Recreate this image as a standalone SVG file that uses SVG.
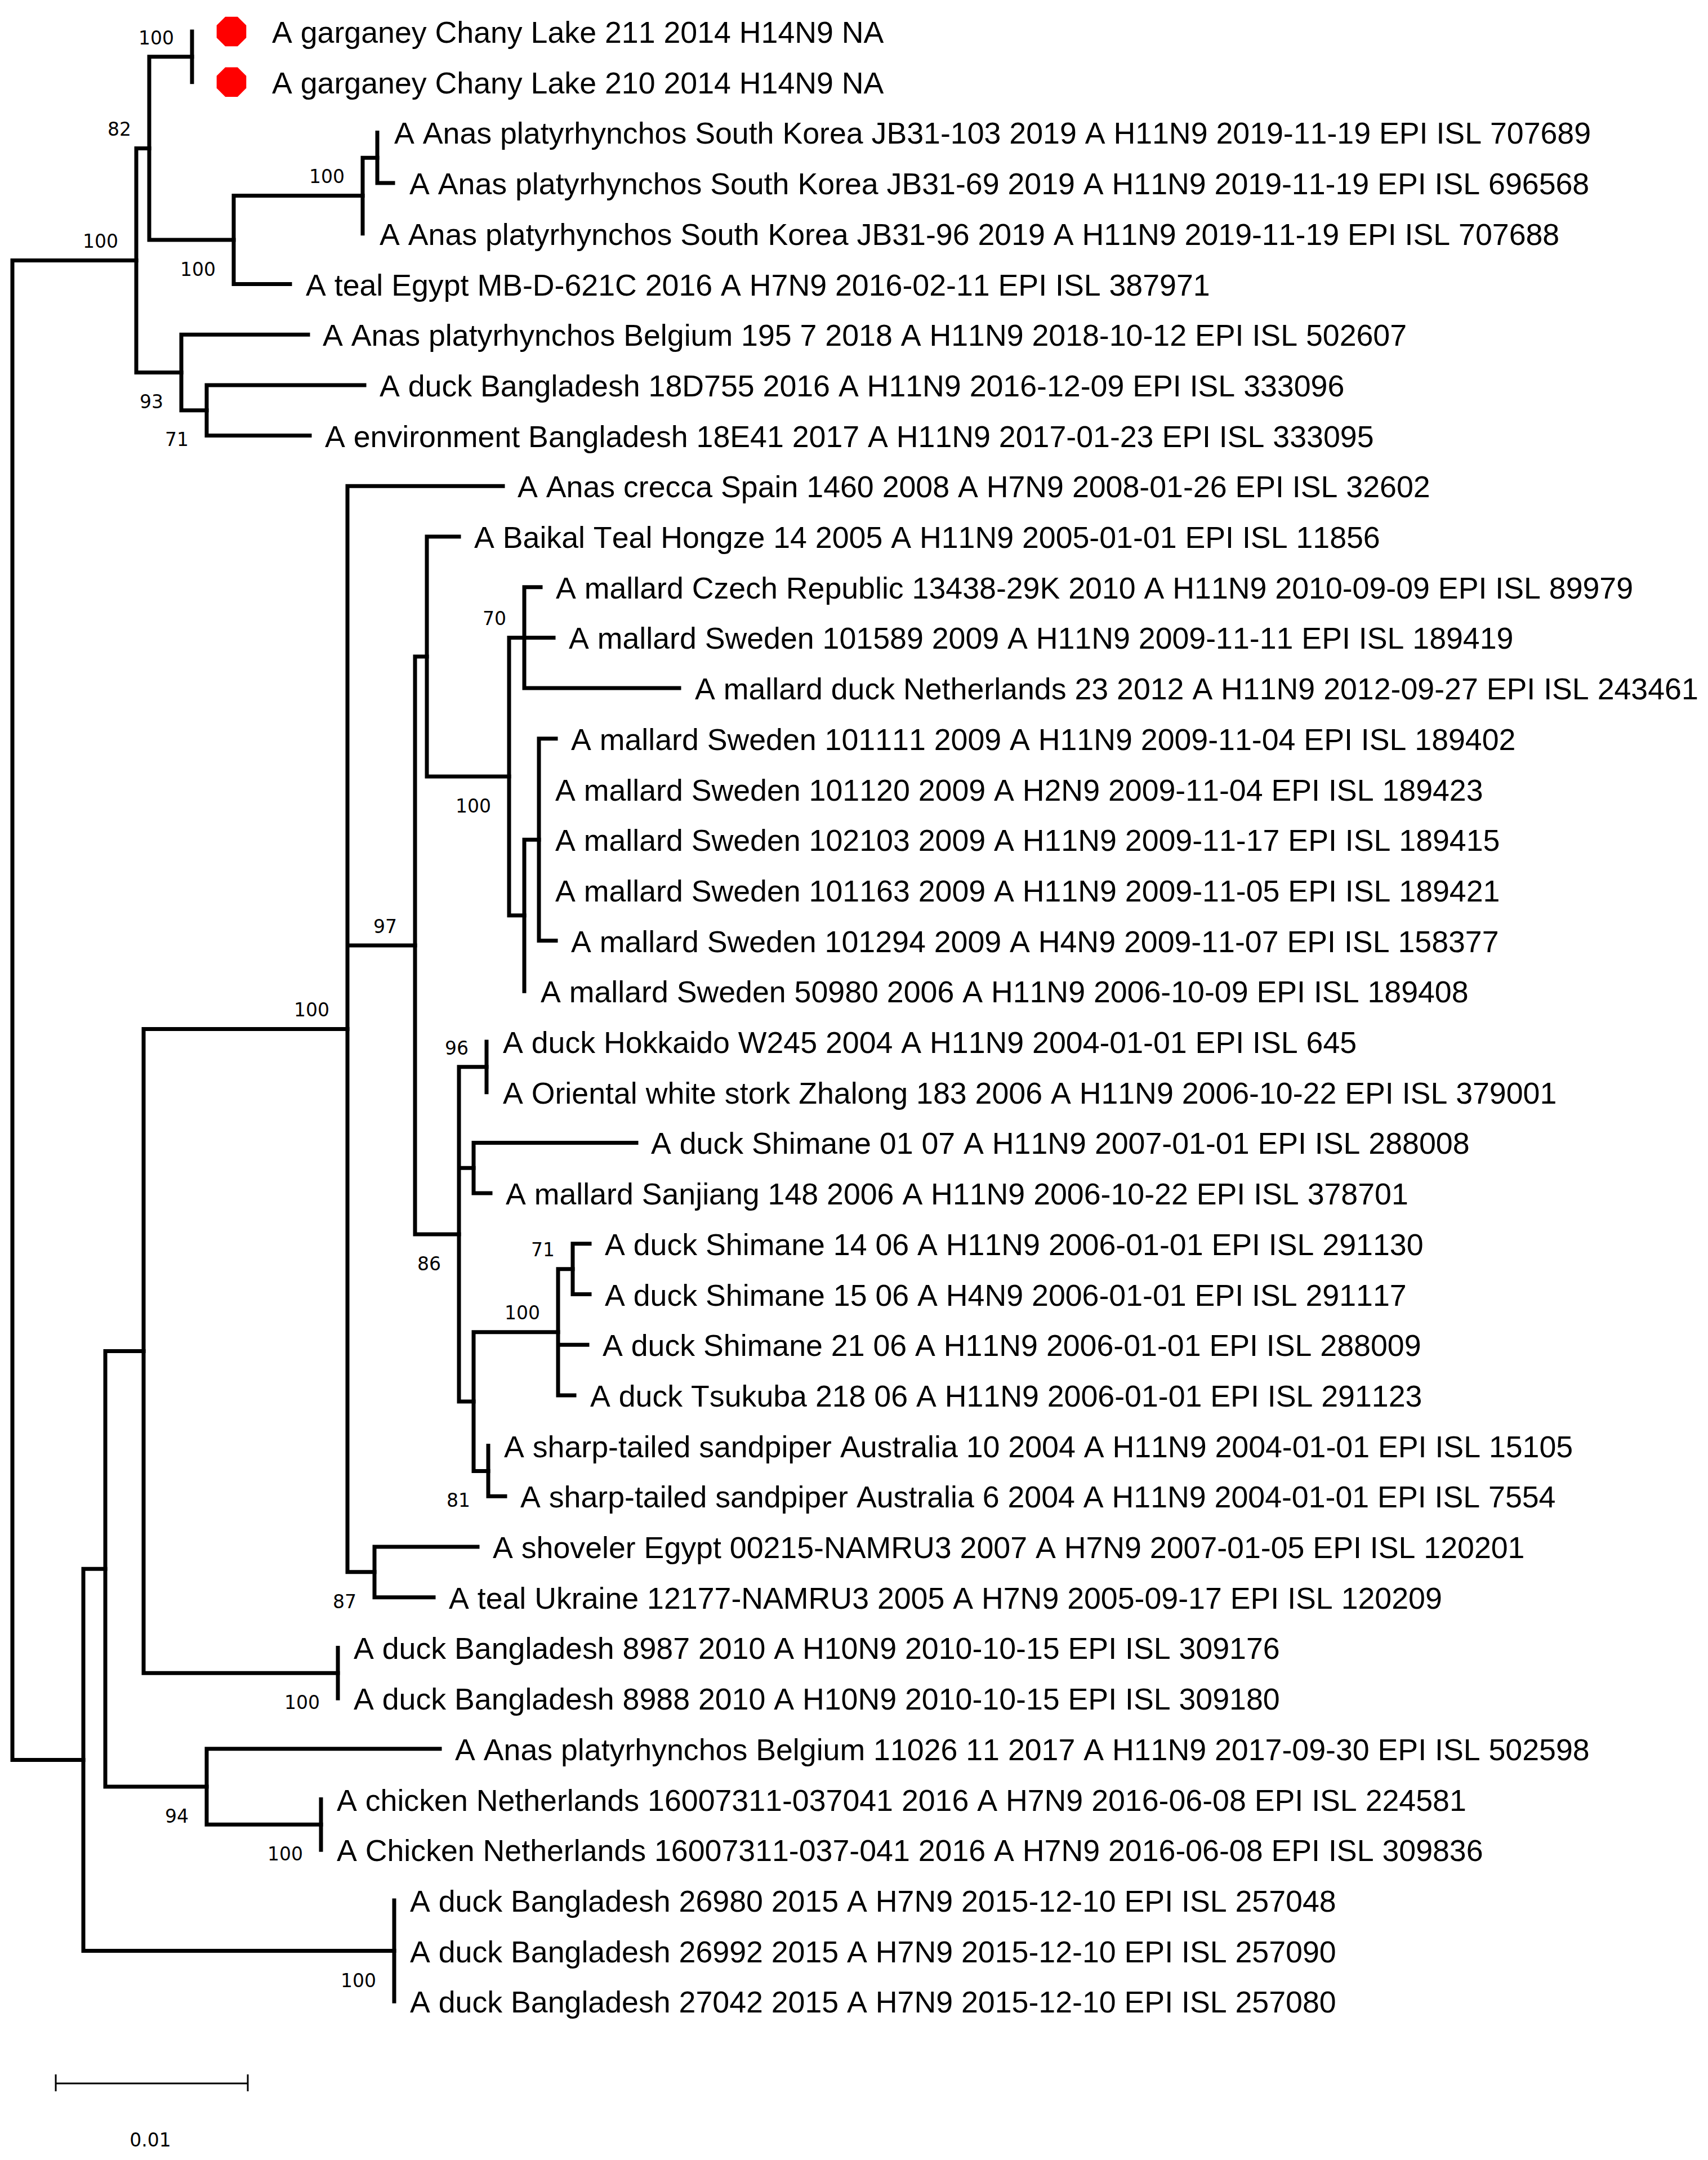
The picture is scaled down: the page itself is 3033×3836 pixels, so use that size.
<svg xmlns="http://www.w3.org/2000/svg" width="3033" height="3836" viewBox="0 0 3033 3836">
<style>
.br{fill:none;stroke:#000;stroke-width:7;stroke-linecap:square;stroke-linejoin:miter}
.lf{font-family:"Liberation Sans",Arial,sans-serif;font-size:53.7px;fill:#000;font-kerning:none;font-feature-settings:"kern" 0}
.bs{font-family:"DejaVu Sans",Verdana,sans-serif;font-size:33px;fill:#000;text-anchor:end;font-kerning:none}
.sb{fill:none;stroke:#000;stroke-width:3}
.dot{fill:#f00}
</style>
<rect width="3033" height="3836" fill="#fff"/>
<g id="connectors" class="br">
<path d="M341 56V145.7"/>
<path d="M670 235.4V325.1H698"/>
<path d="M670 280.25H644V414.8"/>
<path d="M644 347.5H415V504.5H515"/>
<path d="M341 100.85H265V426H415"/>
<path d="M647 683.9H367V773.6H550"/>
<path d="M547 594.2H322V728.75H367"/>
<path d="M265 263.4H242V661.5H322"/>
<path d="M242 462.45H22V3125.4H148"/>
<path d="M960 1042.7H931V1222.1H1206M931 1132.4H983"/>
<path d="M987 1311.8H957V1670.6H987"/>
<path d="M957 1491.2H931V1760.3"/>
<path d="M931 1132.4H904V1625.75H931"/>
<path d="M815 953H758V1379.1H904"/>
<path d="M864 1850V1939.7"/>
<path d="M1130 2029.4H841V2119.1H871"/>
<path d="M1047 2208.8H1017V2298.5H1047"/>
<path d="M1017 2253.65H991V2477.9H1020M991 2388.2H1043"/>
<path d="M867 2567.6V2657.3H897"/>
<path d="M991 2365.8H841V2612.45H867"/>
<path d="M864 1894.85H815V2489.1H841M815 2074.25H841"/>
<path d="M758 1166H737V2192H815"/>
<path d="M848 2747H665V2836.7H770"/>
<path d="M893 863.3H617V2791.85H665M617 1679H737"/>
<path d="M600 2926.4V3016.1"/>
<path d="M617 1827.6H255V2971.25H600"/>
<path d="M570 3195.5V3285.2"/>
<path d="M781 3105.8H367V3240.35H570"/>
<path d="M255 2399.4H187V3173.1H367"/>
<path d="M700 3374.9V3554.3"/>
<path d="M187 2786.25H148V3464.6H700"/>
</g>
<g id="markers">
<polygon class="dot" points="437.3,45.1 437.3,66.9 421.9,82.3 400.1,82.3 384.7,66.9 384.7,45.1 400.1,29.7 421.9,29.7"/>
<polygon class="dot" points="437.3,134.8 437.3,156.6 421.9,172 400.1,172 384.7,156.6 384.7,134.8 400.1,119.4 421.9,119.4"/>
</g>
<g id="leaves">
<g id="leaf0"><text class="lf" x="483" y="76">A garganey Chany Lake 211 2014 H14N9 NA</text></g>
<g id="leaf1"><text class="lf" x="483" y="165.7">A garganey Chany Lake 210 2014 H14N9 NA</text></g>
<g id="leaf2"><text class="lf" x="700" y="255.4">A Anas platyrhynchos South Korea JB31-103 2019 A H11N9 2019-11-19 EPI ISL 707689</text></g>
<g id="leaf3"><text class="lf" x="727" y="345.1">A Anas platyrhynchos South Korea JB31-69 2019 A H11N9 2019-11-19 EPI ISL 696568</text></g>
<g id="leaf4"><text class="lf" x="674" y="434.8">A Anas platyrhynchos South Korea JB31-96 2019 A H11N9 2019-11-19 EPI ISL 707688</text></g>
<g id="leaf5"><text class="lf" x="543" y="524.5">A teal Egypt MB-D-621C 2016 A H7N9 2016-02-11 EPI ISL 387971</text></g>
<g id="leaf6"><text class="lf" x="573" y="614.2">A Anas platyrhynchos Belgium 195 7 2018 A H11N9 2018-10-12 EPI ISL 502607</text></g>
<g id="leaf7"><text class="lf" x="674" y="703.9">A duck Bangladesh 18D755 2016 A H11N9 2016-12-09 EPI ISL 333096</text></g>
<g id="leaf8"><text class="lf" x="577" y="793.6">A environment Bangladesh 18E41 2017 A H11N9 2017-01-23 EPI ISL 333095</text></g>
<g id="leaf9"><text class="lf" x="919" y="883.3">A Anas crecca Spain 1460 2008 A H7N9 2008-01-26 EPI ISL 32602</text></g>
<g id="leaf10"><text class="lf" x="842" y="973">A Baikal Teal Hongze 14 2005 A H11N9 2005-01-01 EPI ISL 11856</text></g>
<g id="leaf11"><text class="lf" x="987" y="1062.7">A mallard Czech Republic 13438-29K 2010 A H11N9 2010-09-09 EPI ISL 89979</text></g>
<g id="leaf12"><text class="lf" x="1010" y="1152.4">A mallard Sweden 101589 2009 A H11N9 2009-11-11 EPI ISL 189419</text></g>
<g id="leaf13"><text class="lf" x="1234" y="1242.1">A mallard duck Netherlands 23 2012 A H11N9 2012-09-27 EPI ISL 243461</text></g>
<g id="leaf14"><text class="lf" x="1014" y="1331.8">A mallard Sweden 101111 2009 A H11N9 2009-11-04 EPI ISL 189402</text></g>
<g id="leaf15"><text class="lf" x="986" y="1421.5">A mallard Sweden 101120 2009 A H2N9 2009-11-04 EPI ISL 189423</text></g>
<g id="leaf16"><text class="lf" x="986" y="1511.2">A mallard Sweden 102103 2009 A H11N9 2009-11-17 EPI ISL 189415</text></g>
<g id="leaf17"><text class="lf" x="986" y="1600.9">A mallard Sweden 101163 2009 A H11N9 2009-11-05 EPI ISL 189421</text></g>
<g id="leaf18"><text class="lf" x="1014" y="1690.6">A mallard Sweden 101294 2009 A H4N9 2009-11-07 EPI ISL 158377</text></g>
<g id="leaf19"><text class="lf" x="960" y="1780.3">A mallard Sweden 50980 2006 A H11N9 2006-10-09 EPI ISL 189408</text></g>
<g id="leaf20"><text class="lf" x="893" y="1870">A duck Hokkaido W245 2004 A H11N9 2004-01-01 EPI ISL 645</text></g>
<g id="leaf21"><text class="lf" x="893" y="1959.7">A Oriental white stork Zhalong 183 2006 A H11N9 2006-10-22 EPI ISL 379001</text></g>
<g id="leaf22"><text class="lf" x="1156" y="2049.4">A duck Shimane 01 07 A H11N9 2007-01-01 EPI ISL 288008</text></g>
<g id="leaf23"><text class="lf" x="898" y="2139.1">A mallard Sanjiang 148 2006 A H11N9 2006-10-22 EPI ISL 378701</text></g>
<g id="leaf24"><text class="lf" x="1074" y="2228.8">A duck Shimane 14 06 A H11N9 2006-01-01 EPI ISL 291130</text></g>
<g id="leaf25"><text class="lf" x="1074" y="2318.5">A duck Shimane 15 06 A H4N9 2006-01-01 EPI ISL 291117</text></g>
<g id="leaf26"><text class="lf" x="1070" y="2408.2">A duck Shimane 21 06 A H11N9 2006-01-01 EPI ISL 288009</text></g>
<g id="leaf27"><text class="lf" x="1048" y="2497.9">A duck Tsukuba 218 06 A H11N9 2006-01-01 EPI ISL 291123</text></g>
<g id="leaf28"><text class="lf" x="895" y="2587.6">A sharp-tailed sandpiper Australia 10 2004 A H11N9 2004-01-01 EPI ISL 15105</text></g>
<g id="leaf29"><text class="lf" x="924" y="2677.3">A sharp-tailed sandpiper Australia 6 2004 A H11N9 2004-01-01 EPI ISL 7554</text></g>
<g id="leaf30"><text class="lf" x="875" y="2767">A shoveler Egypt 00215-NAMRU3 2007 A H7N9 2007-01-05 EPI ISL 120201</text></g>
<g id="leaf31"><text class="lf" x="797" y="2856.7">A teal Ukraine 12177-NAMRU3 2005 A H7N9 2005-09-17 EPI ISL 120209</text></g>
<g id="leaf32"><text class="lf" x="628" y="2946.4">A duck Bangladesh 8987 2010 A H10N9 2010-10-15 EPI ISL 309176</text></g>
<g id="leaf33"><text class="lf" x="628" y="3036.1">A duck Bangladesh 8988 2010 A H10N9 2010-10-15 EPI ISL 309180</text></g>
<g id="leaf34"><text class="lf" x="808" y="3125.8">A Anas platyrhynchos Belgium 11026 11 2017 A H11N9 2017-09-30 EPI ISL 502598</text></g>
<g id="leaf35"><text class="lf" x="598" y="3215.5">A chicken Netherlands 16007311-037041 2016 A H7N9 2016-06-08 EPI ISL 224581</text></g>
<g id="leaf36"><text class="lf" x="598" y="3305.2">A Chicken Netherlands 16007311-037-041 2016 A H7N9 2016-06-08 EPI ISL 309836</text></g>
<g id="leaf37"><text class="lf" x="728" y="3394.9">A duck Bangladesh 26980 2015 A H7N9 2015-12-10 EPI ISL 257048</text></g>
<g id="leaf38"><text class="lf" x="728" y="3484.6">A duck Bangladesh 26992 2015 A H7N9 2015-12-10 EPI ISL 257090</text></g>
<g id="leaf39"><text class="lf" x="728" y="3574.3">A duck Bangladesh 27042 2015 A H7N9 2015-12-10 EPI ISL 257080</text></g>
</g>
<g id="bootstrap">
<text class="bs" x="309" y="79">100</text>
<text class="bs" x="233" y="241">82</text>
<text class="bs" x="210" y="440">100</text>
<text class="bs" x="612" y="325">100</text>
<text class="bs" x="383" y="490">100</text>
<text class="bs" x="290" y="725">93</text>
<text class="bs" x="335" y="792">71</text>
<text class="bs" x="899" y="1110">70</text>
<text class="bs" x="872" y="1443">100</text>
<text class="bs" x="705" y="1657">97</text>
<text class="bs" x="585" y="1805">100</text>
<text class="bs" x="832" y="1873">96</text>
<text class="bs" x="783" y="2256">86</text>
<text class="bs" x="985" y="2231">71</text>
<text class="bs" x="959" y="2343">100</text>
<text class="bs" x="835" y="2676">81</text>
<text class="bs" x="633" y="2856">87</text>
<text class="bs" x="568" y="3035">100</text>
<text class="bs" x="335" y="3237">94</text>
<text class="bs" x="538" y="3304">100</text>
<text class="bs" x="668" y="3529">100</text>
</g>
<g id="scalebar">
<path class="sb" d="M99 3700H440M99 3684V3714M440 3684V3714"/>
<text class="bs" x="267" y="3812" style="text-anchor:middle">0.01</text>
</g>
</svg>
